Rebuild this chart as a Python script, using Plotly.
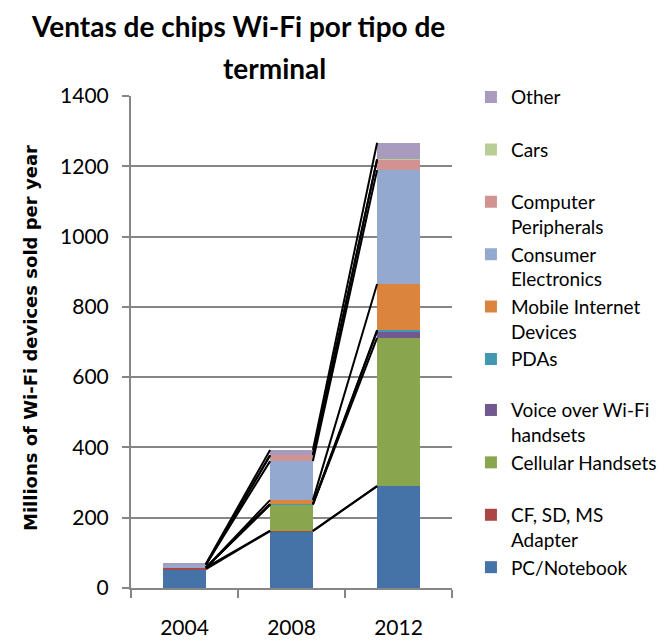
import plotly.graph_objects as go

years = ["2004", "2008", "2012"]
series_names = [
    "PC/Notebook",
    "CF, SD, MS<br>Adapter",
    "Cellular Handsets",
    "Voice over Wi-Fi<br>handsets",
    "PDAs",
    "Mobile Internet<br>Devices",
    "Consumer<br>Electronics",
    "Computer<br>Peripherals",
    "Cars",
    "Other",
]
pc_notebook = [54, 162, 290]
cf_sd_ms = [4, 1, 0]
cellular = [0, 74, 422]
voice_wifi = [0, 1, 19]
pdas = [0, 1, 3]
mobile_internet = [0, 11, 131]
consumer_electronics = [8, 111, 324]
computer_peripherals = [0, 17, 30]
cars = [0, 0, 1]
other = [3, 15, 47]
series_values = [pc_notebook, cf_sd_ms, cellular, voice_wifi, pdas,
                 mobile_internet, consumer_electronics, computer_peripherals,
                 cars, other]
colors = ["#4572A7", "#AA4643", "#89A54E", "#71588F", "#4198AF",
          "#DB843D", "#93A9CF", "#D19392", "#B9CD96", "#A99BBD"]
y_ticks = [0, 200, 400, 600, 800, 1000, 1200, 1400]

FONT = "Lato"
xpos = list(range(len(years)))
bar_w = 0.4

fig = go.Figure()
for k, (name, vals, col) in enumerate(zip(series_names, series_values, colors)):
    label = name
    if "<br>" not in name and k != 0:
        label = name + "<br>\u00a0"
    fig.add_trace(go.Bar(x=xpos, y=vals, name=label, marker_color=col,
                         marker_line_width=0, width=bar_w,
                         legend="legend" if k >= 4 else "legend2"))

# series lines connecting stacked segments between bars
cum = []
run = [0] * len(years)
for vals in series_values:
    run = [a + b for a, b in zip(run, vals)]
    cum.append(run)
lx, ly = [], []
for c in cum:
    for i in range(len(years) - 1):
        lx += [xpos[i] + bar_w / 2, xpos[i + 1] - bar_w / 2, None]
        ly += [c[i], c[i + 1], None]
fig.add_trace(go.Scatter(x=lx, y=ly, mode="lines", showlegend=False,
                         hoverinfo="skip", line=dict(color="black", width=2)))

leg_common = dict(x=1.059, xanchor="left", yanchor="middle",
                  traceorder="reversed", valign="top", tracegroupgap=0,
                  font=dict(family=FONT, size=19, color="black"),
                  bgcolor="rgba(0,0,0,0)")

fig.update_layout(
    width=671, height=640,
    barmode="stack",
    paper_bgcolor="white", plot_bgcolor="white",
    margin=dict(l=131, r=219, t=96, b=52, autoexpand=False),
    font=dict(family=FONT, size=18, color="black"),
    showlegend=True,
    legend=dict(y=0.706, **leg_common),
    legend2=dict(y=0.202, **leg_common),
    xaxis=dict(range=[-0.5, 2.5], tickvals=xpos, ticktext=years,
               showgrid=False, ticks="", showline=True, linecolor="#868686",
               linewidth=2, ticklabelstandoff=20, zeroline=False,
               minor=dict(tickvals=[-0.5, 0.5, 1.5, 2.5], ticks="outside",
                          ticklen=8, tickcolor="#868686", tickwidth=2),
               tickfont=dict(size=21, family=FONT)),
    yaxis=dict(range=[0, 1400], tickvals=y_ticks, showgrid=True,
               gridcolor="#868686", gridwidth=2, showline=True,
               linecolor="#868686", linewidth=2, ticks="outside", ticklen=7,
               tickcolor="#868686", tickwidth=2, zeroline=False,
               ticklabelstandoff=9, tickfont=dict(size=21, family=FONT)),
    annotations=[
        dict(text="<b>Ventas de chips Wi-Fi por tipo de</b>", xref="paper",
             yref="paper", x=(238 - 131) / 321, y=(588 - 26) / 492,
             xanchor="center", yanchor="middle", showarrow=False,
             font=dict(size=28, family=FONT)),
        dict(text="<b>terminal</b>", xref="paper", yref="paper",
             x=(274 - 131) / 321, y=(588 - 68) / 492,
             xanchor="center", yanchor="middle", showarrow=False,
             font=dict(size=28, family=FONT)),
        dict(text="<b>Millions of Wi-Fi devices sold per year</b>",
             xref="paper", yref="paper", x=(30 - 131) / 321,
             y=(588 - 338) / 492, xanchor="center", yanchor="middle",
             textangle=-90, showarrow=False,
             font=dict(size=18, family="DejaVu Sans")),
    ],
)

fig.write_html(
    "out.html",
    config={"displayModeBar": False},
    post_script="document.body.style.margin='0';document.body.style.padding='0';",
)
